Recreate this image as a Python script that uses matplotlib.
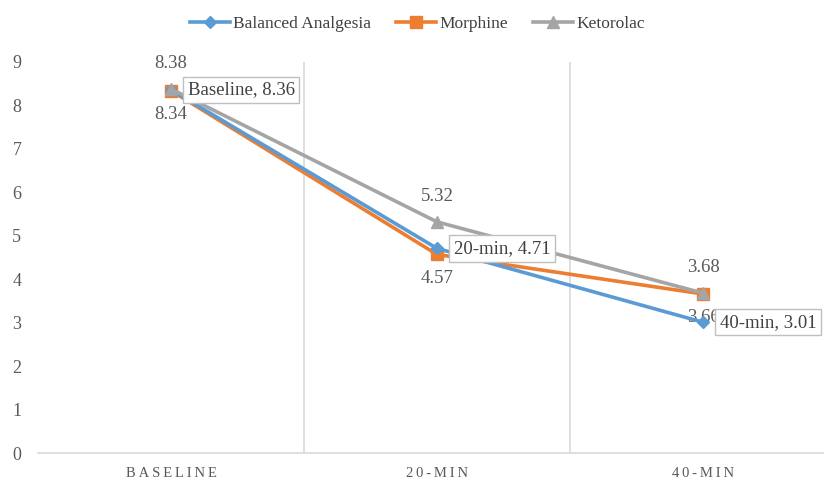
import matplotlib
matplotlib.use("Agg")
import matplotlib.pyplot as plt

# data
categories = ["Baseline", "20-min", "40-min"]
tick_labels = ["BASELINE", "20-MIN", "40-MIN"]
balanced = [8.36, 4.71, 3.01]
morphine = [8.34, 4.57, 3.66]
ketorolac = [8.38, 5.32, 3.68]

plt.rcParams['font.family'] = ['Liberation Serif', 'DejaVu Serif']

fig = plt.figure(figsize=(8.24, 4.82), dpi=100)
ax = fig.add_axes([38 / 824, 29 / 482, 798 / 824, 391 / 482])

x = list(range(len(categories)))
ax.plot(x, balanced, color='#5B9BD5', lw=2.6, marker='D', ms=6,
        label='Balanced Analgesia', zorder=4)
ax.plot(x, morphine, color='#ED7D31', lw=2.6, marker='s', ms=9,
        label='Morphine', zorder=3)
ax.plot(x, ketorolac, color='#A5A5A5', lw=2.6, marker='^', ms=9,
        label='Ketorolac', zorder=5)

ax.set_xlim(-0.5, 2.5)
ax.set_ylim(0, 9)
ax.set_yticks(range(0, 10))
ax.set_xticks(x)
ax.set_xticklabels(['\u2009'.join(t) for t in tick_labels], color='#404040')
ax.tick_params(axis='both', length=0, colors='#595959', labelsize=13)
ax.tick_params(axis='x', pad=10, labelsize=10.5)
ax.tick_params(axis='y', pad=12)

for s in ['top', 'right', 'left']:
    ax.spines[s].set_visible(False)
ax.spines['bottom'].set_color('#D9D9D9')
ax.spines['bottom'].set_linewidth(1.2)

for b in [0.5, 1.5, 2.5]:
    ax.axvline(b, color='#D9D9D9', lw=1.2, zorder=0)

lab_col = '#595959'
for i in x:
    ax.annotate(f'{ketorolac[i]:.2f}', (i, ketorolac[i]), xytext=(0, 12),
                textcoords='offset points', ha='center', va='bottom',
                fontsize=13.5, color=lab_col)
    ax.annotate(f'{morphine[i]:.2f}', (i, morphine[i]), xytext=(0, -11),
                textcoords='offset points', ha='center', va='top',
                fontsize=13.5, color=lab_col)
    ax.annotate(f'{categories[i]}, {balanced[i]:.2f}', (i, balanced[i]),
                xytext=(12, 0), textcoords='offset points', ha='left',
                va='center', fontsize=13.5, color='#404040', zorder=6,
                bbox=dict(boxstyle='square,pad=0.25', fc='white',
                          ec='#BFBFBF', lw=1))

ax.legend(loc='upper center', bbox_to_anchor=(0.4756, 1.158),
          ncol=3, frameon=False, fontsize=12.5, handlelength=2.3,
          columnspacing=1.45, handletextpad=0.2, labelcolor='#404040')

fig.savefig('out.png', dpi=100)
